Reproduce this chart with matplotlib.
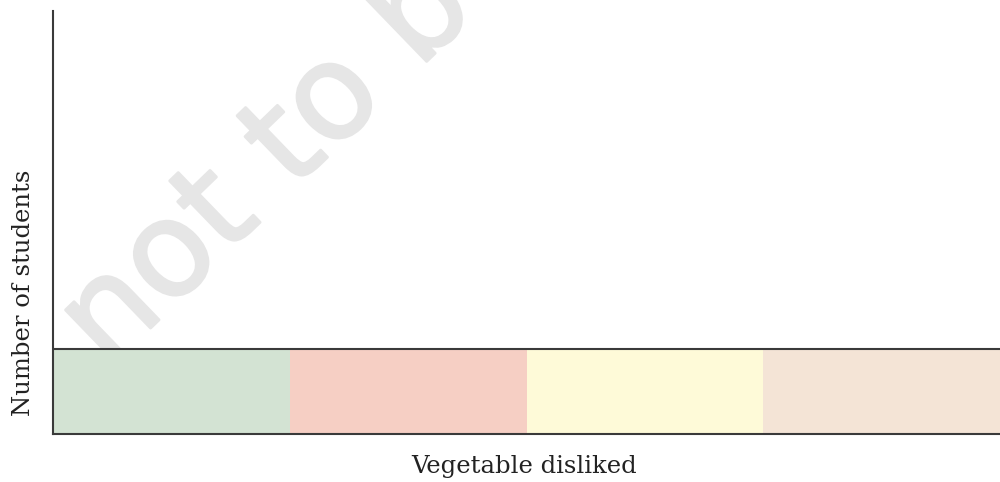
import matplotlib.pyplot as plt
import matplotlib.patheffects as pe

# blank bar-graph template: one coloured strip per vegetable
slots = [0, 1, 2, 3]
strip_height = [1, 1, 1, 1]
strip_colors = ['#d3e3d3', '#f6cfc4', '#fefad8', '#f4e4d6']
y_max = 5

fig = plt.figure(figsize=(10, 4.82), dpi=100)
ax = fig.add_axes([0.053, 1 - 434 / 482, 0.947, 423 / 482])
ax.set_zorder(1)
ax.patch.set_alpha(0)

# faint watermark, sits under the strips
wm_color = '#e6e6e6'
fig.text(0.107, 0.232, 'not to be', rotation=44, rotation_mode='anchor',
         ha='left', va='baseline', fontsize=95, color=wm_color,
         family='DejaVu Sans', zorder=0,
         path_effects=[pe.withStroke(linewidth=2, foreground=wm_color)])

ax.bar(slots, strip_height, width=1.0, align='edge', color=strip_colors,
       edgecolor='none', zorder=2)
ax.axhline(strip_height[0], color='#3a3a3a', linewidth=1.5, zorder=3)

ax.set_xlim(0, len(slots))
ax.set_ylim(0, y_max)
for side in ['top', 'right']:
    ax.spines[side].set_visible(False)
for side in ['left', 'bottom']:
    ax.spines[side].set_color('#3a3a3a')
    ax.spines[side].set_linewidth(1.5)
    ax.spines[side].set_zorder(4)
ax.set_xticks([])
ax.set_yticks([])

fig.text(0.524, 1 - 473 / 482, 'Vegetable disliked', ha='center',
         va='baseline', fontsize=17.5, family='DejaVu Serif', color='#222222')
fig.text(0.024, 1 - 293 / 482, 'Number of students', ha='center',
         va='center', rotation=90, fontsize=17.5, family='DejaVu Serif',
         color='#222222')

fig.savefig('out.png', dpi=100)
